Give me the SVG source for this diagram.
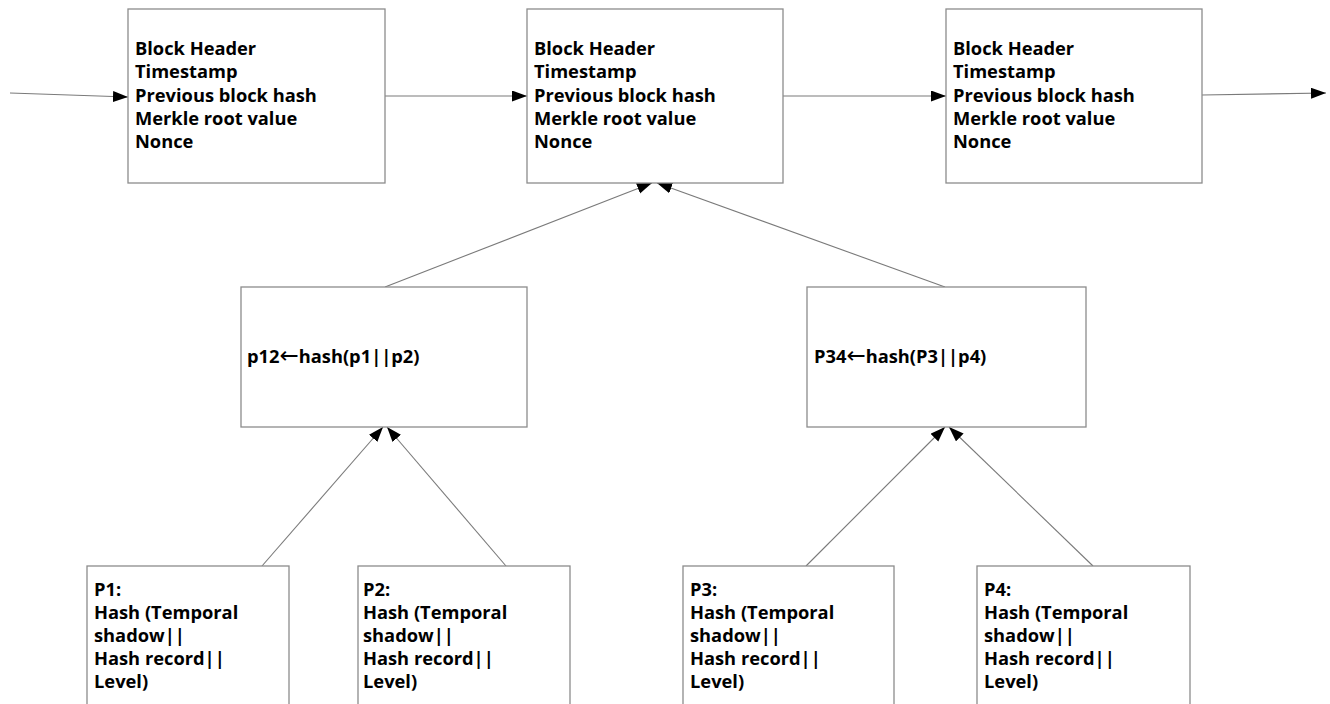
<svg xmlns="http://www.w3.org/2000/svg" width="1330" height="704" viewBox="0 0 1330 704">
<style>
.box{fill:#fff;stroke:#8c8c8c;stroke-width:1.3}
.t{font-family:"Open Sans","Liberation Sans",sans-serif;font-weight:700;font-size:18.3px;fill:#000}
.ar{font-family:"DejaVu Sans",sans-serif;font-weight:400;font-size:23px}
.c{fill:none;stroke:#7a7a7a;stroke-width:1.1}
</style>
<defs>
<marker id="ah" markerUnits="userSpaceOnUse" markerWidth="16" markerHeight="12" refX="15" refY="5.5" orient="auto" viewBox="0 0 16 12">
<path d="M0,0 L15,5.5 L0,11 z" fill="#000"/>
</marker>
</defs>
<rect width="1330" height="704" fill="#fff"/>
<g id="connectors">
<line class="c" x1="10" y1="93" x2="128" y2="97" marker-end="url(#ah)"/>
<line class="c" x1="385" y1="96" x2="527" y2="96" marker-end="url(#ah)"/>
<line class="c" x1="783" y1="96" x2="946" y2="96" marker-end="url(#ah)"/>
<line class="c" x1="1202" y1="95" x2="1326" y2="93" marker-end="url(#ah)"/>
<line class="c" x1="385" y1="287" x2="652" y2="183" marker-end="url(#ah)"/>
<line class="c" x1="945" y1="287" x2="657" y2="183" marker-end="url(#ah)"/>
<line class="c" x1="262" y1="566" x2="383" y2="427" marker-end="url(#ah)"/>
<line class="c" x1="506" y1="566" x2="387" y2="427" marker-end="url(#ah)"/>
<line class="c" x1="806" y1="566" x2="945" y2="427" marker-end="url(#ah)"/>
<line class="c" x1="1093" y1="566" x2="949" y2="427" marker-end="url(#ah)"/>
</g>
<g id="block1">
<rect class="box" x="128" y="9" width="257" height="174"/>
<text class="t"><tspan x="135" y="55">Block Header</tspan><tspan x="135" y="78">Timestamp</tspan><tspan x="135" y="101.5">Previous block hash</tspan><tspan x="135" y="125">Merkle root value</tspan><tspan x="135" y="148">Nonce</tspan></text>
</g>
<g id="block2">
<rect class="box" x="527" y="9" width="256" height="174"/>
<text class="t"><tspan x="534" y="55">Block Header</tspan><tspan x="534" y="78">Timestamp</tspan><tspan x="534" y="101.5">Previous block hash</tspan><tspan x="534" y="125">Merkle root value</tspan><tspan x="534" y="148">Nonce</tspan></text>
</g>
<g id="block3">
<rect class="box" x="946" y="9" width="256" height="174"/>
<text class="t"><tspan x="953" y="55">Block Header</tspan><tspan x="953" y="78">Timestamp</tspan><tspan x="953" y="101.5">Previous block hash</tspan><tspan x="953" y="125">Merkle root value</tspan><tspan x="953" y="148">Nonce</tspan></text>
</g>
<g id="p12">
<rect class="box" x="241" y="287" width="286" height="140"/>
<text class="t" x="247" y="363">p12<tspan class="ar">←</tspan>hash(p1||p2)</text>
</g>
<g id="p34">
<rect class="box" x="807" y="287" width="279" height="140"/>
<text class="t" x="814" y="363">P34<tspan class="ar">←</tspan>hash(P3||p4)</text>
</g>
<g id="P1">
<rect class="box" x="87" y="566" width="202" height="160"/>
<text class="t"><tspan x="94" y="596">P1:</tspan><tspan x="94" y="618.5">Hash (Temporal</tspan><tspan x="94" y="641.5">shadow||</tspan><tspan x="94" y="664.5">Hash record||</tspan><tspan x="94" y="687.5">Level)</tspan></text>
</g>
<g id="P2">
<rect class="box" x="358" y="566" width="212" height="160"/>
<text class="t"><tspan x="363" y="596">P2:</tspan><tspan x="363" y="618.5">Hash (Temporal</tspan><tspan x="363" y="641.5">shadow||</tspan><tspan x="363" y="664.5">Hash record||</tspan><tspan x="363" y="687.5">Level)</tspan></text>
</g>
<g id="P3">
<rect class="box" x="683" y="566" width="211" height="160"/>
<text class="t"><tspan x="690" y="596">P3:</tspan><tspan x="690" y="618.5">Hash (Temporal</tspan><tspan x="690" y="641.5">shadow||</tspan><tspan x="690" y="664.5">Hash record||</tspan><tspan x="690" y="687.5">Level)</tspan></text>
</g>
<g id="P4">
<rect class="box" x="977" y="566" width="213" height="160"/>
<text class="t"><tspan x="984" y="596">P4:</tspan><tspan x="984" y="618.5">Hash (Temporal</tspan><tspan x="984" y="641.5">shadow||</tspan><tspan x="984" y="664.5">Hash record||</tspan><tspan x="984" y="687.5">Level)</tspan></text>
</g>
</svg>
